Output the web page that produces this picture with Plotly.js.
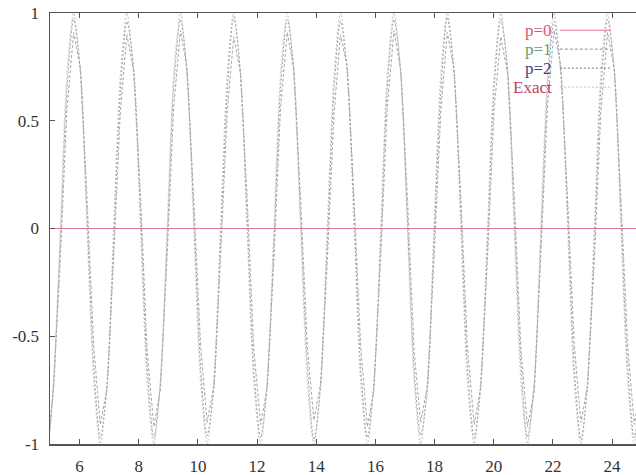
<!DOCTYPE html>
<html>
<head>
<meta charset="utf-8">
<script src="https://cdn.plot.ly/plotly-3.0.1.min.js"></script>
<style>html,body{margin:0;padding:0;background:#fff;}#chart{width:636px;height:475px;}</style>
</head>
<body>
<div id="chart"></div>
<script>
// Shared sample positions (x)
var xVals = [5.00, 5.12, 5.35, 5.57,
  5.80, 6.03, 6.25, 6.48, 6.70, 6.93, 7.15, 7.38,
  7.60, 7.83, 8.06, 8.28, 8.51, 8.73, 8.96, 9.18,
  9.41, 9.63, 9.86, 10.09, 10.31, 10.54, 10.76, 10.99,
  11.21, 11.44, 11.66, 11.89, 12.12, 12.34, 12.57, 12.79,
  13.02, 13.24, 13.47, 13.70, 13.92, 14.15, 14.37, 14.60,
  14.82, 15.05, 15.28, 15.50, 15.73, 15.95, 16.18, 16.40,
  16.63, 16.86, 17.08, 17.31, 17.53, 17.76, 17.98, 18.21,
  18.43, 18.66, 18.89, 19.11, 19.34, 19.56, 19.79, 20.01,
  20.24, 20.47, 20.69, 20.92, 21.14, 21.37, 21.59, 21.82,
  22.04, 22.27, 22.50, 22.72, 22.95, 23.17, 23.40, 23.62,
  23.85, 24.08, 24.30, 24.53, 24.75, 24.98];

var p0X = [5, 25];
var p0Y = [0, 0];

var p1Y = [-0.90, -0.74, -0.14, 0.55,
  0.91, 0.74, 0.14, -0.55, -0.91, -0.74, -0.14, 0.55,
  0.90, 0.73, 0.15, -0.56, -0.92, -0.75, -0.13, 0.56,
  0.92, 0.75, 0.13, -0.54, -0.90, -0.73, -0.15, 0.54,
  0.89, 0.72, 0.15, -0.56, -0.91, -0.74, -0.14, 0.55,
  0.91, 0.74, 0.14, -0.55, -0.89, -0.72, -0.16, 0.53,
  0.90, 0.75, 0.13, -0.54, -0.92, -0.75, -0.13, 0.56,
  0.92, 0.73, 0.15, -0.57, -0.90, -0.73, -0.15, 0.54,
  0.91, 0.74, 0.14, -0.55, -0.91, -0.74, -0.14, 0.55,
  0.89, 0.72, 0.16, -0.56, -0.92, -0.76, -0.12, 0.57,
  0.92, 0.75, 0.13, -0.54, -0.90, -0.73, -0.15, 0.54,
  0.91, 0.74, 0.14, -0.55, -0.91, -0.74];

var p2Y = [-0.93, -0.73, -0.07, 0.64,
  0.97, 0.73, 0.07, -0.64, -0.97, -0.73, -0.07, 0.64,
  0.96, 0.74, 0.08, -0.63, -0.97, -0.72, -0.06, 0.65,
  0.97, 0.73, 0.07, -0.64, -0.96, -0.74, -0.08, 0.63,
  0.98, 0.72, 0.06, -0.65, -0.97, -0.73, -0.07, 0.64,
  0.97, 0.74, 0.07, -0.63, -0.98, -0.73, -0.08, 0.64,
  0.96, 0.73, 0.08, -0.64, -0.97, -0.72, -0.07, 0.65,
  0.97, 0.72, 0.06, -0.65, -0.96, -0.74, -0.06, 0.63,
  0.98, 0.73, 0.07, -0.64, -0.97, -0.73, -0.07, 0.64,
  0.97, 0.74, 0.08, -0.63, -0.97, -0.72, -0.08, 0.65,
  0.96, 0.73, 0.07, -0.64, -0.98, -0.73, -0.07, 0.64,
  0.97, 0.73, 0.07, -0.64, -0.97, -0.73];

var exactY = [-0.94, -0.71, 0.00, 0.71,
  1, 0.71, 0, -0.71, -1, -0.71, 0, 0.71,
  1, 0.71, 0, -0.71, -1, -0.71, 0, 0.71,
  1, 0.71, 0, -0.71, -1, -0.71, 0, 0.71,
  1, 0.71, 0, -0.71, -1, -0.71, 0, 0.71,
  1, 0.71, 0, -0.71, -1, -0.71, 0, 0.71,
  1, 0.71, 0, -0.71, -1, -0.71, 0, 0.71,
  1, 0.71, 0, -0.71, -1, -0.71, 0, 0.71,
  1, 0.71, 0, -0.71, -1, -0.71, 0, 0.71,
  1, 0.71, 0, -0.71, -1, -0.71, 0, 0.71,
  1, 0.71, 0, -0.71, -1, -0.71, 0, 0.71,
  1, 0.71, 0, -0.71, -1, -0.71];

var seriesNames = ['p=0', 'p=1', 'p=2', 'Exact'];
var xTicks = [6, 8, 10, 12, 14, 16, 18, 20, 22, 24];
var yTicks = [-1, -0.5, 0, 0.5, 1];
var yTickText = ['-1', '-0.5', '0', '0.5', '1'];

var colP0 = '#e07890', colP1 = '#a8b0a8', colP2 = '#a4a4b2', colEx = '#dcc4ca';
var textCols = ['#d85a72', '#6f9a72', '#3f3f88', '#c0405a'];

var traces = [
  {x: xVals, y: exactY, mode: 'lines', name: seriesNames[3], line: {color: colEx, width: 1.2, dash: '2px,2px', shape: 'spline', smoothing: 0.8}},
  {x: xVals, y: p1Y, mode: 'lines', name: seriesNames[1], line: {color: colP1, width: 1.1, dash: '3px,2px'}},
  {x: xVals, y: p2Y, mode: 'lines', name: seriesNames[2], line: {color: colP2, width: 1.1, dash: '2px,2px', shape: 'spline', smoothing: 0.8}},
  {x: p0X, y: p0Y, mode: 'lines', name: seriesNames[0], line: {color: colP0, width: 1.2}}
];

var fontFam = 'Liberation Serif, Times New Roman, serif';
// legend rows at pixel y ~ 30, 49, 68, 87 -> paper coords
var legY = [0.960, 0.916, 0.872, 0.828];
var legDash = ['solid', '3px,2px', '2px,2px', '2px,2px'];
var legCol = [colP0, '#a0aaa0', '#9090a4', colEx];
var annotations = [], shapes = [];
for (var i = 0; i < 4; i++) {
  annotations.push({xref: 'paper', yref: 'paper', x: 0.858, y: legY[i], xanchor: 'right', yanchor: 'middle',
    text: seriesNames[i], showarrow: false, borderpad: 0, font: {family: fontFam, size: 17, color: textCols[i]}});
  shapes.push({type: 'line', xref: 'paper', yref: 'paper', x0: 0.87, x1: 0.957, y0: legY[i], y1: legY[i],
    line: {color: legCol[i], width: 1.2, dash: legDash[i]}});
}

var layout = {
  width: 636, height: 475,
  margin: {l: 50, r: 0, t: 13, b: 31},
  paper_bgcolor: '#ffffff', plot_bgcolor: '#ffffff',
  showlegend: false,
  font: {family: fontFam, size: 17, color: '#333'},
  xaxis: {range: [5, 24.81], tickvals: xTicks, ticks: 'inside', ticklen: 5, tickcolor: '#555',
    showline: true, linecolor: '#555', linewidth: 1.5, mirror: 'ticks', showgrid: false, zeroline: false,
    ticklabelstandoff: 6,
    tickfont: {family: fontFam, size: 17, color: '#333'}},
  yaxis: {range: [-1, 1], tickvals: yTicks, ticktext: yTickText, ticks: 'inside', ticklen: 5, tickcolor: '#555',
    showline: true, linecolor: '#555', linewidth: 1.5, showgrid: false, zeroline: false, ticklabelstandoff: 6,
    tickfont: {family: fontFam, size: 17, color: '#333'}},
  annotations: annotations,
  shapes: shapes
};

Plotly.newPlot('chart', traces, layout, {staticPlot: true, displayModeBar: false});
</script>
</body>
</html>
